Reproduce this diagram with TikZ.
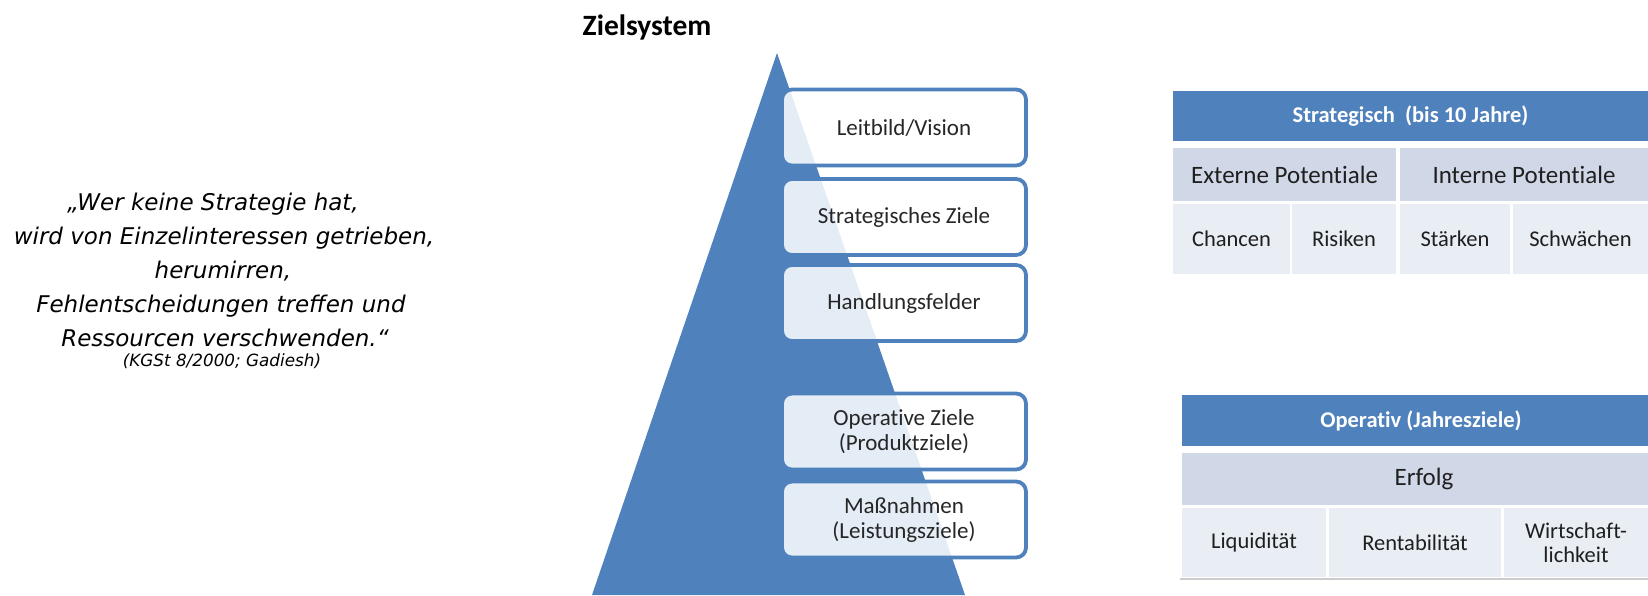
\documentclass[tikz,border=0pt]{standalone}
\usepackage{fontspec}
\setmainfont{Carlito}[Ligatures=NoCommon]
\newfontfamily\quotefont{DejaVu Sans}
\definecolor{ob}{HTML}{4F81BD}
\definecolor{rowb}{HTML}{D0D8E8}
\definecolor{rowc}{HTML}{E9EDF4}
\definecolor{txt}{HTML}{262626}
\begin{document}
\begin{tikzpicture}[x=1pt,y=-1pt,
  lvl/.style={draw=ob, line width=3.8pt, rounded corners=10pt, fill=white, fill opacity=0.85, text opacity=1,
    text=txt, align=center, inner sep=0pt, minimum width=244pt, minimum height=76pt,
    font=\fontsize{23}{25}\selectfont},
  hdr/.style={fill=ob, text=white, inner sep=0pt, font=\bfseries\fontsize{22.5}{27}\selectfont},
  cellb/.style={fill=rowb, text=black!88, inner sep=0pt, font=\fontsize{25}{27}\selectfont},
  cellc/.style={fill=rowc, text=black!88, inner sep=0pt, align=center, font=\fontsize{22.5}{24}\selectfont},
  qline/.style={anchor=base, inner sep=0pt, font=\quotefont\itshape\fontsize{23}{25}\selectfont},
]
\useasboundingbox (0,0) rectangle (1648,595);

% title
\node[anchor=base, inner sep=0pt, font=\bfseries\fontsize{29.5}{32}\selectfont] (title) at (647,35) {Zielsystem};

% quote
\node[qline] (q1) at (213,210) {„Wer keine Strategie hat,};
\node[qline] (q2) at (224,244) {wird von Einzelinteressen getrieben,};
\node[qline] (q3) at (223,278) {herumirren,};
\node[qline] (q4) at (221,312) {Fehlentscheidungen treffen und};
\node[qline] (q5) at (225,346) {Ressourcen verschwenden.“};
\node[qline, font=\quotefont\itshape\fontsize{16.8}{18}\selectfont] (src) at (222,366) {(KGSt 8/2000; Gadiesh)};

% pyramid
\fill[ob] (777,53) -- (965,595) -- (592,595) -- cycle;

% levels
\node[lvl] (l1) at (904,127.5) {Leitbild/Vision};
\node[lvl] (l2) at (904,217) {Strategisches Ziele};
\node[lvl] (l3) at (904,303) {Handlungsfelder};
\node[lvl] (l4) at (904,431.5) {Operative Ziele\\(Produktziele)};
\node[lvl] (l5) at (904,519.5) {Maßnahmen\\(Leistungsziele)};

% strategic table
\node[hdr, minimum width=475pt, minimum height=50pt] (sh) at (1410.5,116) {Strategisch\ \ (bis 10 Jahre)};
\node[cellb, minimum width=223pt, minimum height=53pt] (ext) at (1284.5,174.5) {Externe Potentiale};
\node[cellb, minimum width=248pt, minimum height=53pt] (int) at (1524,174.5) {Interne Potentiale};
\node[cellc, minimum width=117pt, minimum height=70pt] (cha) at (1231.5,239) {Chancen};
\node[cellc, minimum width=104pt, minimum height=70pt] (ris) at (1344,239) {Risiken};
\node[cellc, minimum width=110pt, minimum height=70pt] (sta) at (1455,239) {Stärken};
\node[cellc, minimum width=135pt, minimum height=70pt] (sch) at (1580.5,239) {Schwächen};

% operative table
\node[hdr, minimum width=466pt, minimum height=51pt] (oh) at (1415,420.5) {\hspace*{12pt}Operativ (Jahresziele)};
\node[cellb, minimum width=466pt, minimum height=52pt] (erf) at (1415,479) {\hspace*{18pt}Erfolg};
\node[cellc, minimum width=144pt, minimum height=69pt] (liq) at (1254,542.5) {Liquidität};
\node[cellc, minimum width=172pt, minimum height=69pt] (ren) at (1415,542.5) {Rentabilität};
\node[cellc, minimum width=144pt, minimum height=69pt] (wir) at (1576,542.5) {Wirtschaft-\\lichkeit};
\coordinate (gl) at (1180,579);
\coordinate (gr) at (1648,579);
\draw[black!20, line width=1.2pt] (gl) -- (gr);
\end{tikzpicture}
\end{document}
